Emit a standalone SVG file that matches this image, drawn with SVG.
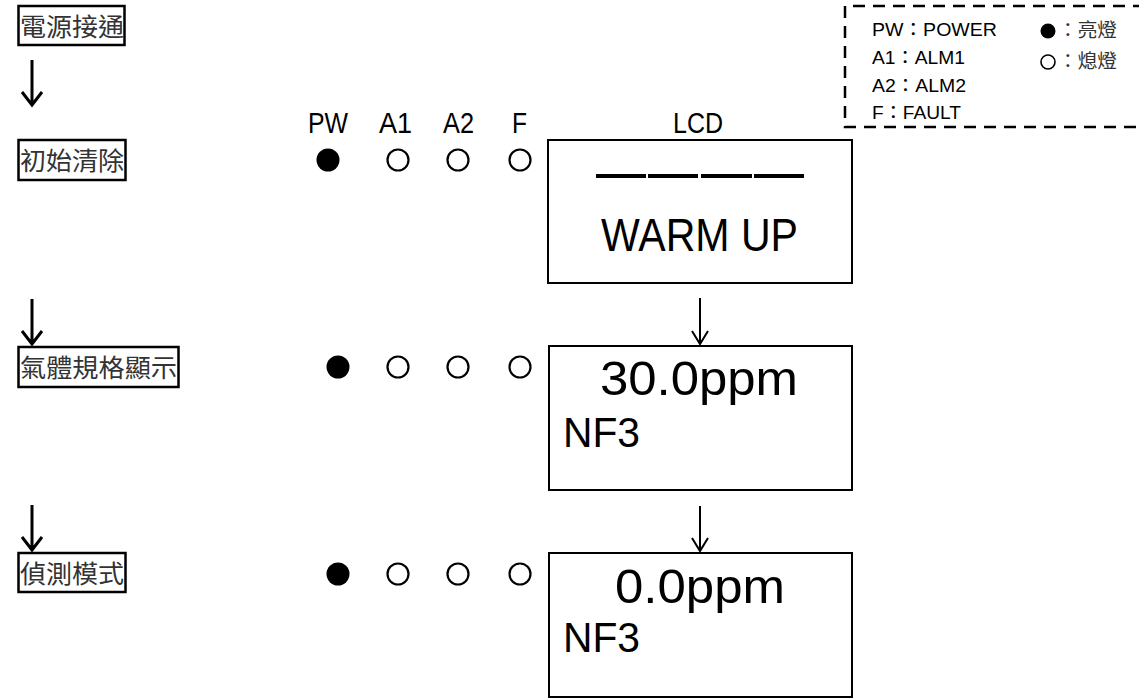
<svg xmlns="http://www.w3.org/2000/svg" width="1139" height="698" viewBox="0 0 1139 698">
<style>
.cjk{font-family:"Noto Sans CJK TC","Liberation Sans",sans-serif;fill:#333}
.step{font-size:25px}
.lat{font-family:"Liberation Sans","Noto Sans CJK TC",sans-serif;fill:#000}
.box{fill:none;stroke:#000;stroke-width:2.5}
.lcd{fill:none;stroke:#000;stroke-width:2}
.on{fill:#000}
.off{fill:none;stroke:#000;stroke-width:2.2}
.arr{fill:none;stroke:#000;stroke-width:3}
.arr2{fill:none;stroke:#000;stroke-width:2}
</style>
<rect width="1139" height="698" fill="#fff"/>
<g id="legend">
<path d="M1145 6 H845 V127 H1145" fill="none" stroke="#000" stroke-width="2.5" stroke-dasharray="12,8"/>
<text class="lat" x="872" y="36" font-size="18.5" textLength="125" lengthAdjust="spacingAndGlyphs">PW：POWER</text>
<text class="lat" x="872" y="64" font-size="18.5" textLength="93" lengthAdjust="spacingAndGlyphs">A1：ALM1</text>
<text class="lat" x="872" y="92" font-size="18.5" textLength="94" lengthAdjust="spacingAndGlyphs">A2：ALM2</text>
<text class="lat" x="872" y="119" font-size="18.5" textLength="89" lengthAdjust="spacingAndGlyphs">F：FAULT</text>
<circle cx="1048" cy="31" r="7.5" class="on"/>
<circle cx="1048" cy="62" r="7" fill="none" stroke="#000" stroke-width="1.6"/>
<text class="cjk" x="1058" y="37" font-size="19" textLength="59" lengthAdjust="spacingAndGlyphs">：亮燈</text>
<text class="cjk" x="1058" y="68" font-size="19" textLength="59" lengthAdjust="spacingAndGlyphs">：熄燈</text>
</g>
<g id="step-power">
<rect class="box" x="18.5" y="6" width="106" height="39"/>
<text class="cjk step" x="20" y="36" textLength="104" lengthAdjust="spacingAndGlyphs">電源接通</text>
</g>
<g id="header">
<text class="lat" x="308" y="133" font-size="30" textLength="40" lengthAdjust="spacingAndGlyphs">PW</text>
<text class="lat" x="379" y="133" font-size="30" textLength="33" lengthAdjust="spacingAndGlyphs">A1</text>
<text class="lat" x="443" y="133" font-size="30" textLength="31" lengthAdjust="spacingAndGlyphs">A2</text>
<text class="lat" x="512" y="133" font-size="30" textLength="15" lengthAdjust="spacingAndGlyphs">F</text>
<text class="lat" x="673" y="133" font-size="30" textLength="50" lengthAdjust="spacingAndGlyphs">LCD</text>
</g>
<g id="step-init">
<rect class="box" x="18.5" y="140" width="107" height="40"/>
<text class="cjk step" x="20" y="170" textLength="104" lengthAdjust="spacingAndGlyphs">初始清除</text>
<circle cx="328" cy="160" r="11.5" class="on"/>
<circle cx="398" cy="160" r="10.5" class="off"/>
<circle cx="458" cy="160" r="10.5" class="off"/>
<circle cx="520" cy="160" r="10.5" class="off"/>
<rect class="lcd" x="548" y="140" width="304" height="143"/>
<g stroke="#000" stroke-width="4">
<line x1="596" y1="176" x2="646" y2="176"/>
<line x1="648" y1="176" x2="698" y2="176"/>
<line x1="701" y1="176" x2="752" y2="176"/>
<line x1="754" y1="176" x2="804" y2="176"/>
</g>
<text class="lat" x="601" y="251" font-size="47" textLength="197" lengthAdjust="spacingAndGlyphs">WARM UP</text>
</g>
<g id="step-gas">
<rect class="box" x="18.5" y="347" width="160" height="40"/>
<text class="cjk step" x="20" y="377" textLength="157" lengthAdjust="spacingAndGlyphs">氣體規格顯示</text>
<circle cx="338" cy="367" r="11.5" class="on"/>
<circle cx="398" cy="367" r="10.5" class="off"/>
<circle cx="458" cy="367" r="10.5" class="off"/>
<circle cx="520" cy="367" r="10.5" class="off"/>
<rect class="lcd" x="549" y="346" width="303" height="144"/>
<text class="lat" x="600" y="395" font-size="48" textLength="198" lengthAdjust="spacingAndGlyphs">30.0ppm</text>
<text class="lat" x="563" y="447" font-size="42" textLength="77" lengthAdjust="spacingAndGlyphs">NF3</text>
</g>
<g id="step-detect">
<rect class="box" x="18.5" y="553" width="107" height="39"/>
<text class="cjk step" x="20" y="583" textLength="104" lengthAdjust="spacingAndGlyphs">偵測模式</text>
<circle cx="338" cy="574" r="11.5" class="on"/>
<circle cx="398" cy="574" r="10.5" class="off"/>
<circle cx="458" cy="574" r="10.5" class="off"/>
<circle cx="520" cy="574" r="10.5" class="off"/>
<rect class="lcd" x="549" y="553" width="303" height="144"/>
<text class="lat" x="615" y="603" font-size="48" textLength="170" lengthAdjust="spacingAndGlyphs">0.0ppm</text>
<text class="lat" x="563" y="652" font-size="42" textLength="77" lengthAdjust="spacingAndGlyphs">NF3</text>
</g>
<g id="connectors">
<path class="arr" d="M32 60 V105 M22 92 L32 105 L42 92"/>
<path class="arr" d="M32 299 V344 M22 331 L32 344 L42 331"/>
<path class="arr" d="M32 505 V550 M22 537 L32 550 L42 537"/>
<path class="arr2" d="M700 298 V344 M692 331 L700 344 L708 331"/>
<path class="arr2" d="M700 506 V551 M692 538 L700 551 L708 538"/>
</g>
</svg>
